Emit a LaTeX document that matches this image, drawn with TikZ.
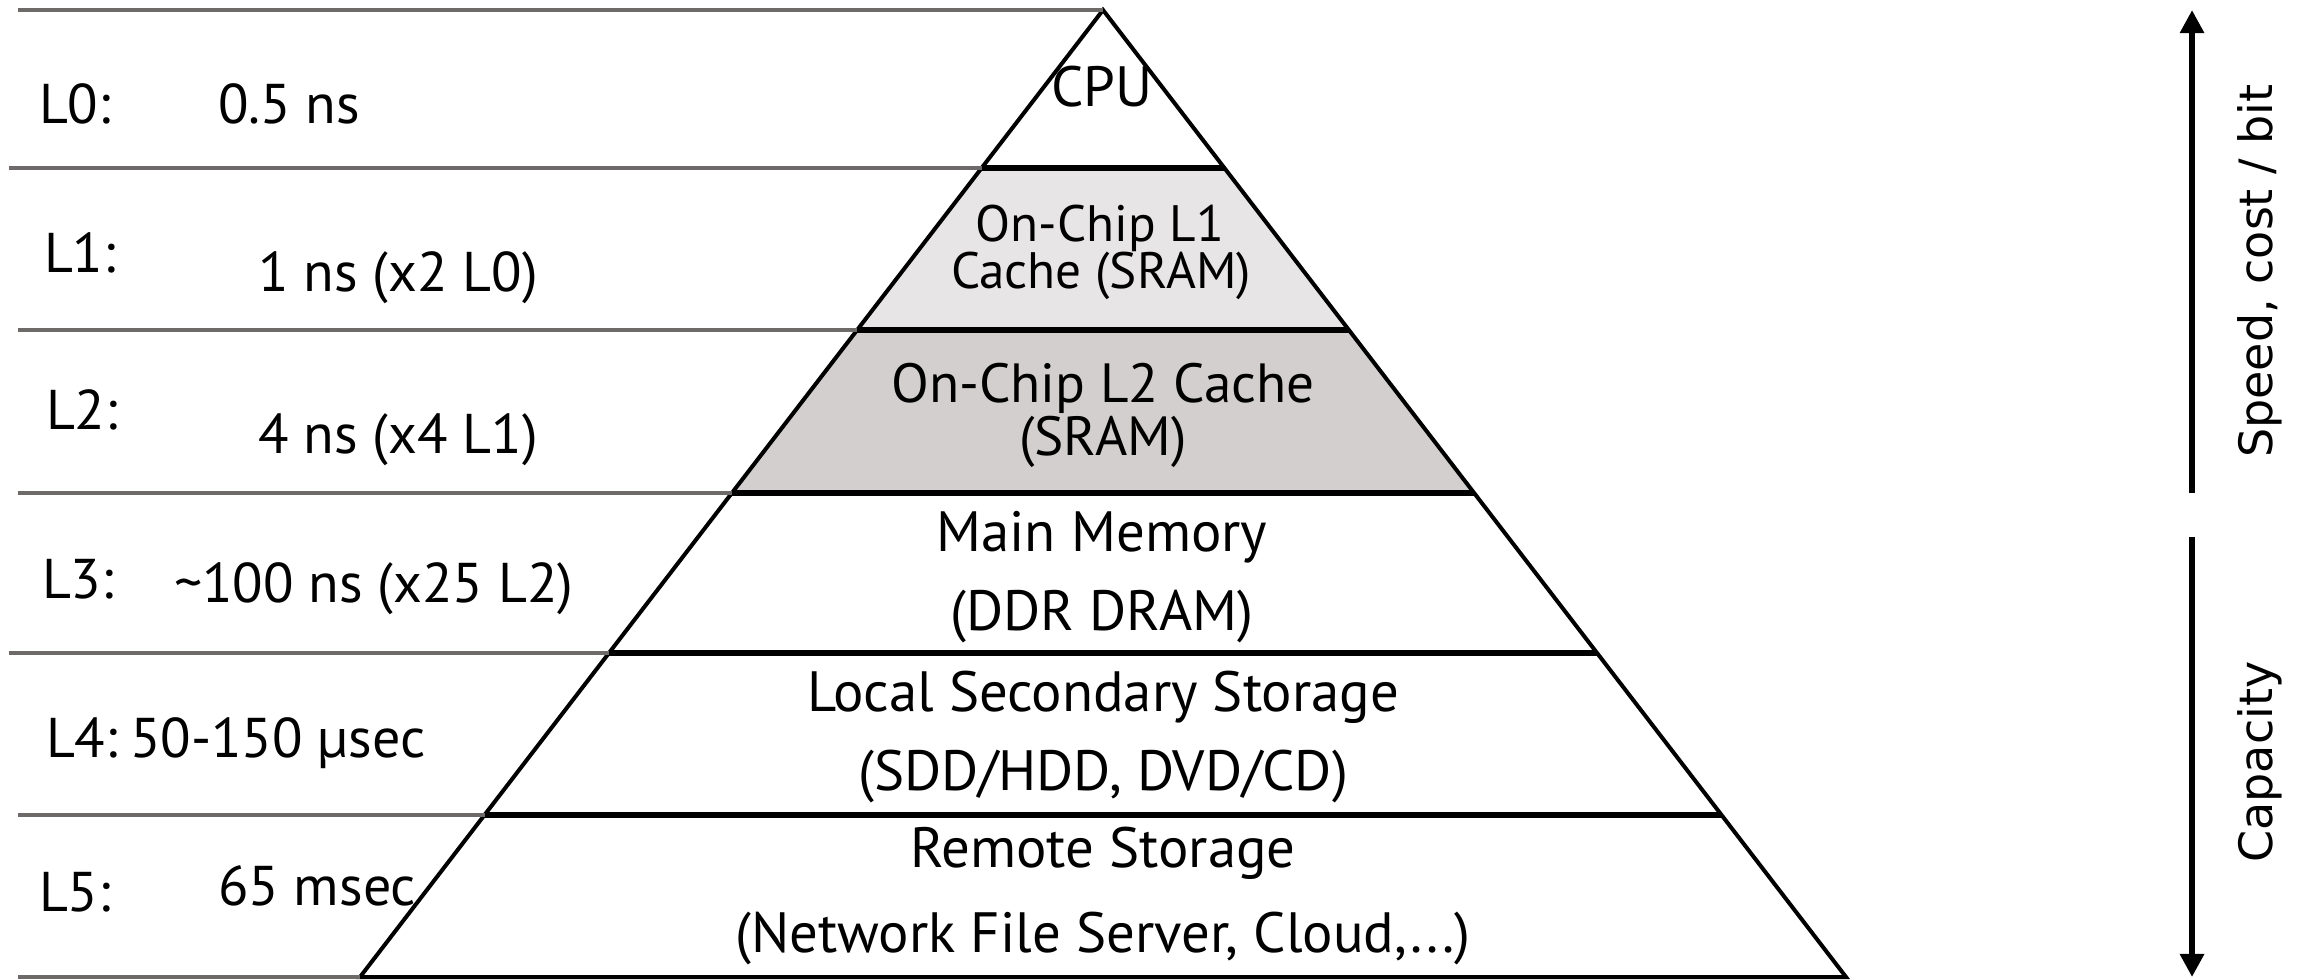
\documentclass[tikz,border=0pt]{standalone}
\usepackage{fontspec}
\setmainfont{PT Sans}
\newfontfamily\axisfont{DejaVu Sans}
\usetikzlibrary{arrows.meta}

\definecolor{rowgray}{RGB}{110,106,106}
\definecolor{lonefill}{RGB}{231,229,230}
\definecolor{ltwofill}{RGB}{211,207,206}

\tikzset{every picture/.style={line width=1pt}}
\tikzset{
  lvltxt/.style={anchor=base west, inner sep=0pt, font=\fontsize{14}{16}\selectfont},
  tiertxt/.style={anchor=base, inner sep=0pt, font=\fontsize{14.2}{16}\selectfont},
  tieronetxt/.style={tiertxt, font=\fontsize{12.8}{15}\selectfont},
  tiertwotxt/.style={tiertxt, font=\fontsize{13.8}{16}\selectfont},
  axistxt/.style={rotate=90, inner sep=0pt, font=\axisfont\fontsize{11.5}{14}\selectfont},
  rowline/.style={draw=rowgray, line width=1pt},
  tierline/.style={line width=1.3pt},
  axisarrow/.style={line width=1.5pt, -{Triangle[length=5.8pt,width=5.8pt]}},
}

\begin{document}
\begin{tikzpicture}[x=0.25pt,y=0.25pt,yscale=-1,xscale=1]
\useasboundingbox (0,0) rectangle (2297,979);

% Shaded layers
\fill [lonefill] (981.6,168) -- (1224.4,168) -- (1348.9,330) -- (857.1,330) -- cycle;
\fill [ltwofill] (857.1,330) -- (1348.9,330) -- (1474.1,493) -- (731.9,493) -- cycle;

% Layer separators
\draw [tierline] (981.6,168) -- (1224.4,168);
\draw [tierline] (857.1,330) -- (1348.9,330);
\draw [tierline] (731.9,493) -- (1474.1,493);
\draw [tierline] (609,653) -- (1597,653);
\draw [tierline] (484.5,815) -- (1721.5,815);

% Pyramid
\draw [line join=miter] (360,977) -- (1103,10) -- (1846,977) -- cycle;

% Row lines
\draw [rowline] (18,10) -- (1103,10);
\draw [rowline] (9,168) -- (981.6,168);
\draw [rowline] (18,330) -- (857.1,330);
\draw [rowline] (18,493) -- (731.9,493);
\draw [rowline] (9,653) -- (609,653);
\draw [rowline] (18,815) -- (484.5,815);
\draw [rowline] (18,977) -- (360,977);

% Level labels
\node [lvltxt] (l0) at (37,123) {L0:};
\node [lvltxt] (t0) at (216,123) {0.5 ns};
\node [lvltxt] (l1) at (42,272) {L1:};
\node [lvltxt] (t1) at (256,291) {1 ns (x2 L0)};
\node [lvltxt] (l2) at (44,429) {L2:};
\node [lvltxt] (t2) at (256,453) {4 ns (x4 L1)};
\node [lvltxt] (l3) at (40,598) {L3:};
\node [lvltxt] (t3) at (172,602) {\textasciitilde100 ns (x25 L2)};
\node [lvltxt] (l4) at (44,757) {L4:};
\node [lvltxt] (t4) at (128,757) {50-150 µsec};
\node [lvltxt] (l5) at (37,911) {L5:};
\node [lvltxt] (t5) at (216,905) {65 msec};

% Pyramid texts
\node [tiertxt] (cpu) at (1102,106) {CPU};
\node [tieronetxt] (lone-a) at (1100,241) {On-Chip L1};
\node [tieronetxt] (lone-b) at (1101,288) {Cache (SRAM)};
\node [tiertwotxt] (ltwo-a) at (1103,402) {On-Chip L2 Cache};
\node [tiertwotxt] (ltwo-b) at (1103,455) {(SRAM)};
\node [tiertxt] (mem-a) at (1102,551) {Main Memory};
\node [tiertxt] (mem-b) at (1102,630) {(DDR DRAM)};
\node [tiertxt] (sec-a) at (1103,711) {Local Secondary Storage};
\node [tiertxt] (sec-b) at (1103,790) {(SDD/HDD, DVD/CD)};
\node [tiertxt] (rem-a) at (1103,867) {Remote Storage};
\node [tiertxt] (rem-b) at (1103,952) {(Network File Server, Cloud,...)};

% Trend arrows
\coordinate (speed-tail) at (2192,493);
\coordinate (speed-tip) at (2192,10);
\coordinate (cap-tail) at (2192,537);
\coordinate (cap-tip) at (2192,977);
\draw [axisarrow] (speed-tail) -- (speed-tip);
\draw [axisarrow] (cap-tail) -- (cap-tip);
\node [axistxt] (speed) at (2260,271) {Speed, cost / bit};
\node [axistxt] (capacity) at (2260,762) {Capacity};

\end{tikzpicture}
\end{document}
